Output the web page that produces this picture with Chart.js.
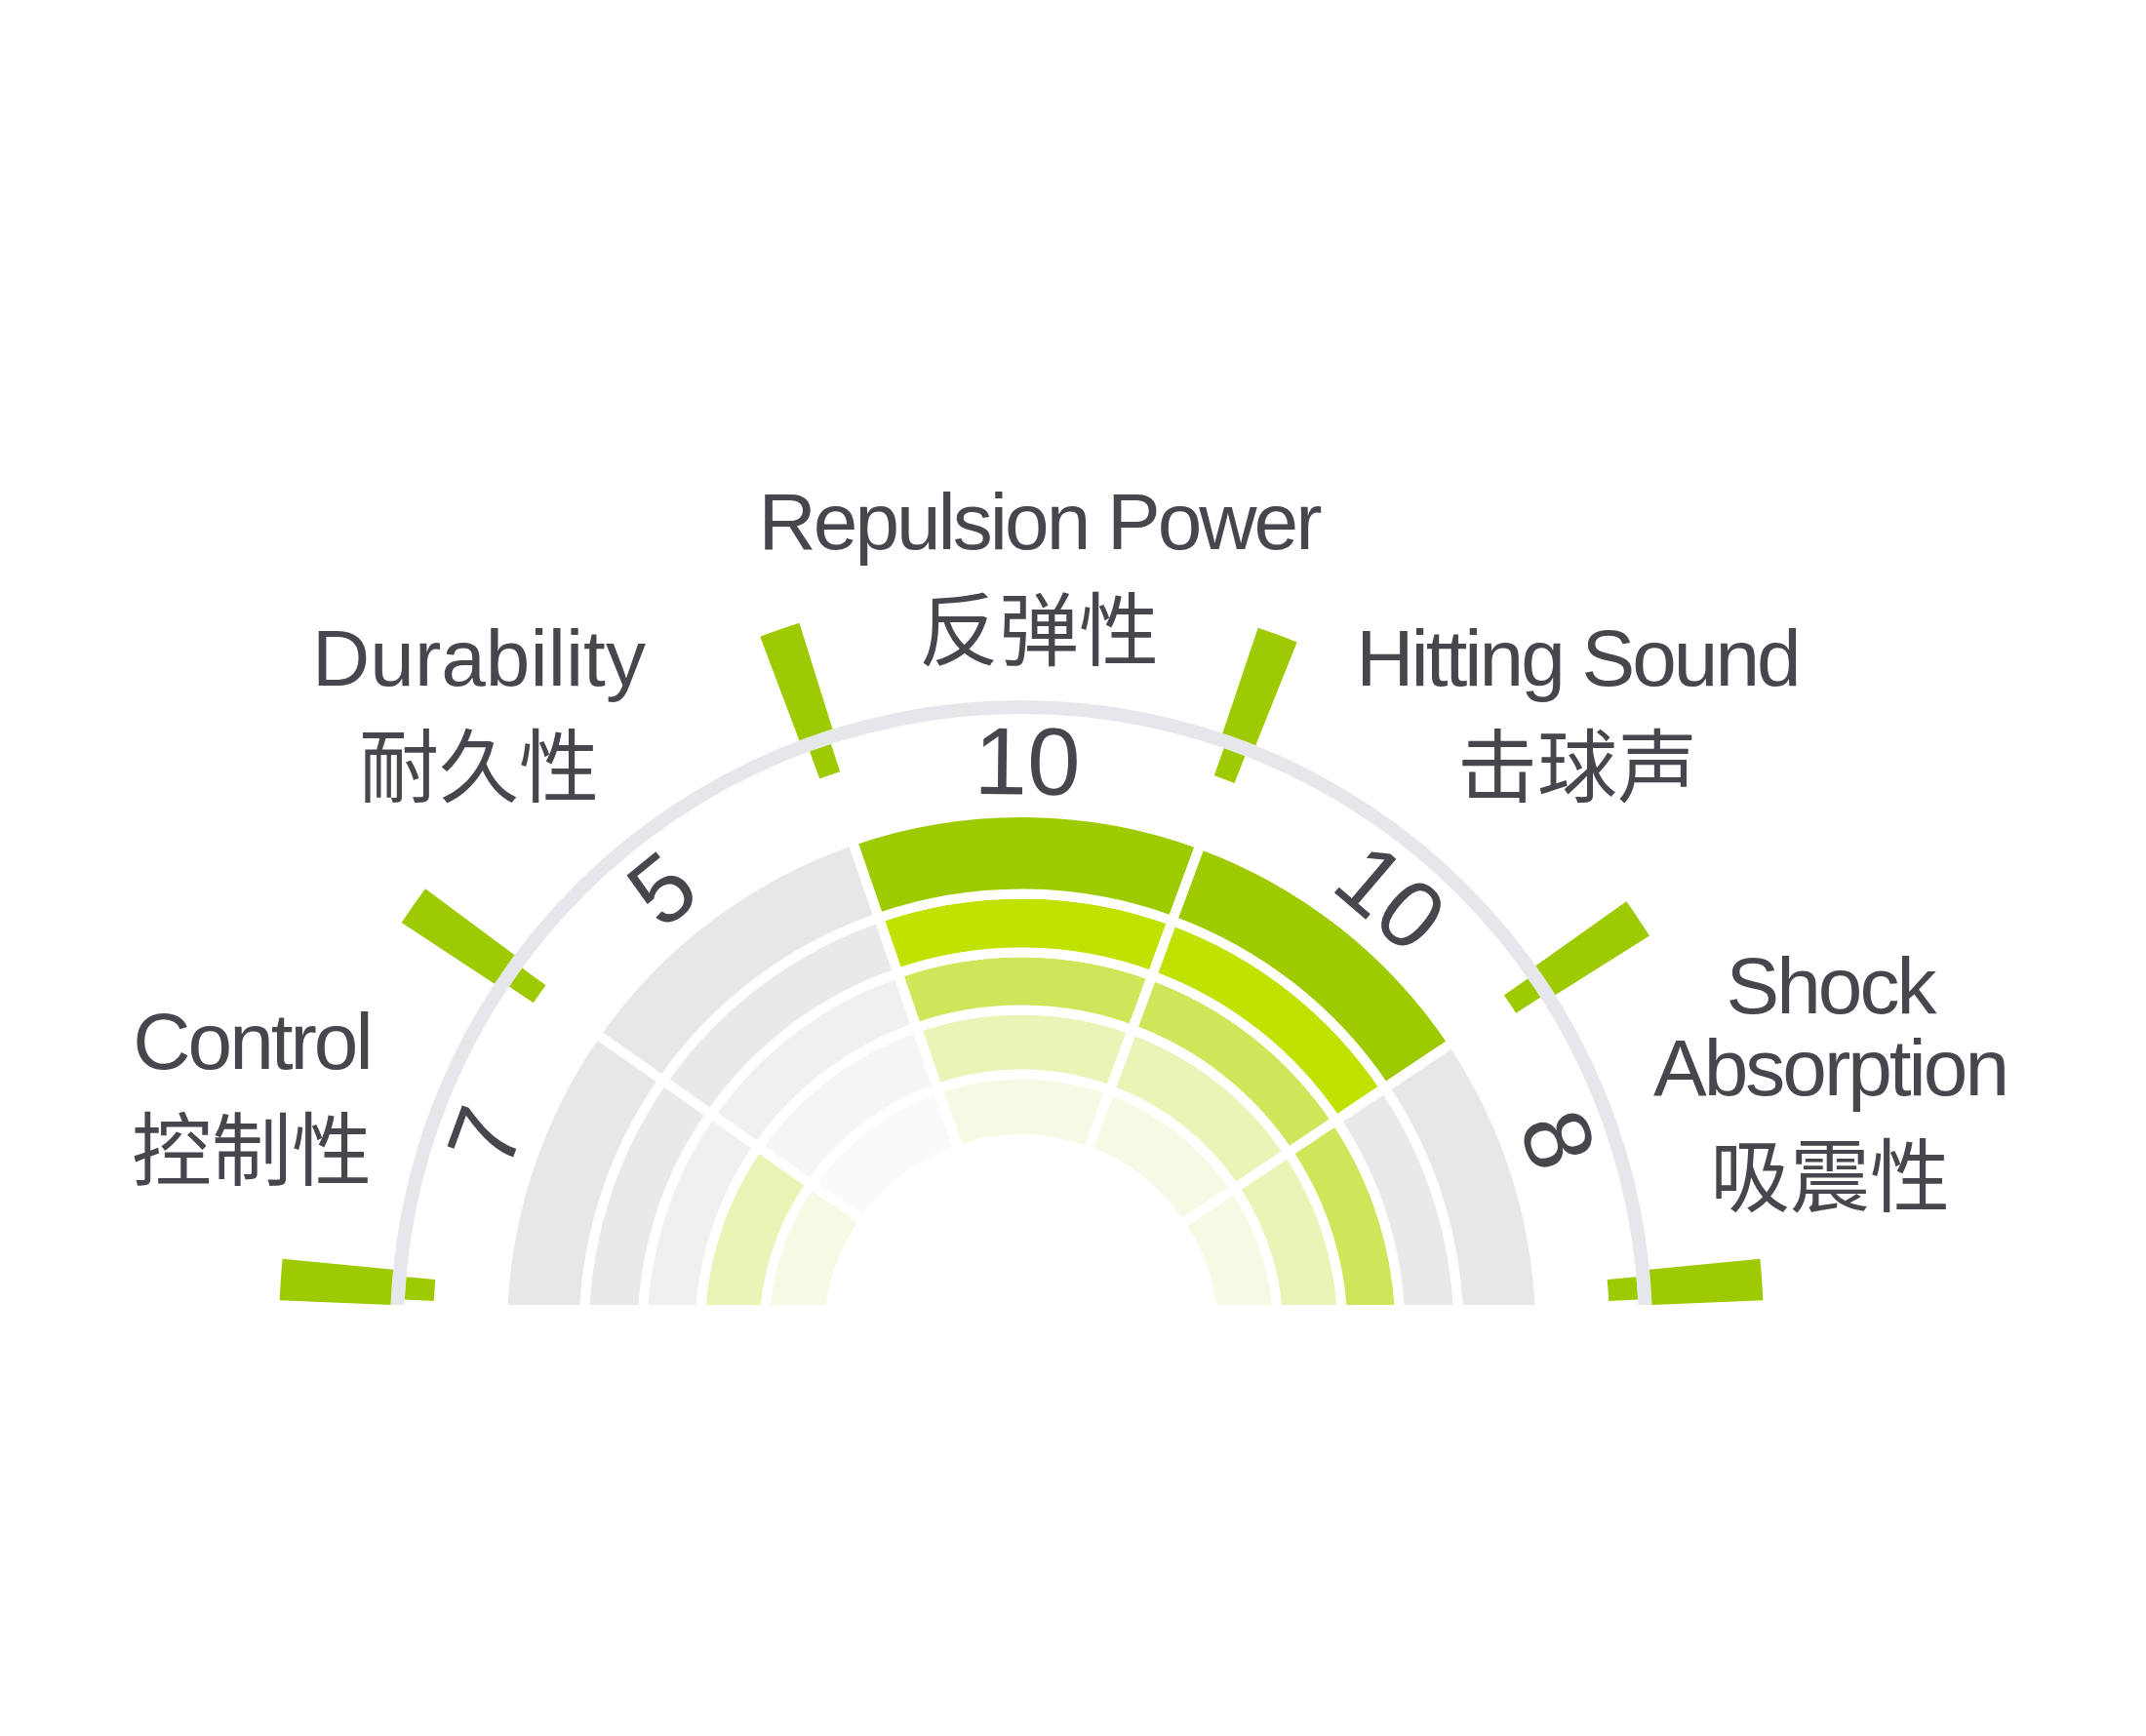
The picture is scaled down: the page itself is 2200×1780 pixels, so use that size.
<!DOCTYPE html>
<html lang="zh-CN">
<head>
<meta charset="UTF-8">
<title>Racket Performance</title>
<script src="https://cdn.jsdelivr.net/npm/chart.js"></script>
<style>
  html, body { margin: 0; padding: 0; background: #fff; }
  canvas { display: block; }
</style>
</head>
<body>
<canvas id="perfChart" width="2200" height="1780"></canvas>
<script>
// ---- data ----
const categories = ['Control', 'Durability', 'Repulsion Power', 'Hitting Sound', 'Shock Absorption'];
const titleLines = [['Control'], ['Durability'], ['Repulsion Power'], ['Hitting Sound'], ['Shock', 'Absorption']];
const categoriesZh = ['控制性', '耐久性', '反弹性', '击球声', '吸震性'];
const scores = [7, 5, 10, 10, 8];
const scoreFloor = 5;   // a ring lights up for every point above this
const ringCount = 5;

// ---- layout ----
const sectorSweep = [35, 36, 39.2, 36, 33.8];   // degrees, left to right
const endTickInset = 4;
const tickOuterWidth = 3.2;
const tickInnerWidth = 2.1;
const baseLift = 27;                            // baseline sits a bit above the centre
const bands = {                                 // px from centre, outside -> inside
  tickOuter: [647, 761],
  arc: [633, 647],
  tickInner: [603, 633],
  gap: [532, 603],
  rings: [[448.5, 532], [388.5, 448.5], [329.5, 388.5], [263.5, 329.5], [197, 263.5]]
};
// title anchor relative to centre (first english baseline) and tracking
const titleAnchor = [[-789, -269], [-556, -662], [18, -802], [570, -662], [829, -326]];
const titleTracking = [-3, 0, -3, -3, -3];
const numberShift = [1.1, -2.1, 0, 2.2, -1.4];   // degrees, clockwise

const greenShades = ['#9dcb00', '#c1e200', '#cee75a', '#e9f5b7', '#f5fae5'];
const greyShades = ['#e6e7e9', '#e8e9eb', '#f0f0f1', '#f5f5f6', '#fafafa'];
const tickGreen = '#9dca00';
const arcGrey = '#e6e7ea';
const textColor = '#46464c';
const clear = 'rgba(0,0,0,0)';

// tick marks sit on every sector boundary plus one near each end
const tickCenters = [endTickInset];
let acc = 0;
sectorSweep.slice(0, -1).forEach(s => { acc += s; tickCenters.push(acc); });
tickCenters.push(180 - endTickInset);

function tickSegments(w) {
  const data = [], colors = [];
  let pos = 0;
  tickCenters.forEach(c => {
    data.push(c - w / 2 - pos); colors.push(clear);
    data.push(w); colors.push(tickGreen);
    pos = c + w / 2;
  });
  data.push(180 - pos); colors.push(clear);
  return { data, colors };
}

const tOut = tickSegments(tickOuterWidth);
const tIn = tickSegments(tickInnerWidth);
const weightOf = b => b[1] - b[0];

const datasets = [
  { data: tOut.data, backgroundColor: tOut.colors, weight: weightOf(bands.tickOuter) },
  { data: [180], backgroundColor: [arcGrey], weight: weightOf(bands.arc) },
  { data: tIn.data, backgroundColor: tIn.colors, weight: weightOf(bands.tickInner) },
  { data: sectorSweep, backgroundColor: sectorSweep.map(() => clear), weight: weightOf(bands.gap) }
];
const gapIndex = 3;

bands.rings.forEach((b, j) => {
  const level = scoreFloor + ringCount - j;   // outer ring = 10
  datasets.push({
    data: sectorSweep,
    backgroundColor: scores.map(s => s >= level ? greenShades[j] : greyShades[j]),
    borderColor: '#ffffff',
    borderWidth: 10,
    weight: weightOf(b)
  });
});
datasets.forEach(d => { d.hoverOffset = 0; d.offset = 0; if (d.borderWidth === undefined) d.borderWidth = 0; });

const outerR = bands.tickOuter[1];
const innerR = bands.rings[bands.rings.length - 1][0];
const cx = 1047, cy = 1365;

const sectorText = {
  id: 'sectorText',
  beforeDatasetsDraw(chart) {
    const a = chart.getDatasetMeta(0).data[0];
    const ctx = chart.ctx;
    ctx.save();
    ctx.beginPath();
    ctx.rect(0, 0, chart.width, a.y - baseLift);
    ctx.clip();
  },
  afterDatasetsDraw(chart) {
    const ctx = chart.ctx;
    ctx.restore();
    const meta = chart.getDatasetMeta(gapIndex);
    ctx.save();
    ctx.fillStyle = textColor;
    ctx.textAlign = 'center';

    // score numbers along the arc
    meta.data.forEach((arc, i) => {
      const r = arc.innerRadius + (arc.outerRadius - arc.innerRadius) * 0.64;
      const clipA = Math.asin(baseLift / r);
      const a0 = Math.max(arc.startAngle, -Math.PI + clipA);
      const a1 = Math.min(arc.endAngle, -clipA);
      const a = (a0 + a1) / 2 + numberShift[i] * Math.PI / 180;
      ctx.save();
      ctx.translate(arc.x + Math.cos(a) * r, arc.y + Math.sin(a) * r);
      ctx.rotate(a + Math.PI / 2);
      ctx.font = '98px "Liberation Sans", Arial, sans-serif';
      ctx.textBaseline = 'middle';
      ctx.fillText(String(scores[i]), 0, 0);
      ctx.restore();
    });

    // category titles
    const ox = meta.data[0].x, oy = meta.data[0].y;
    ctx.textBaseline = 'alphabetic';
    categories.forEach((c, i) => {
      const x = ox + titleAnchor[i][0];
      let y = oy + titleAnchor[i][1];
      ctx.font = '82px "Liberation Sans", Arial, sans-serif';
      ctx.letterSpacing = titleTracking[i] + 'px';
      titleLines[i].forEach((line, k) => {
        if (k > 0) y += 84;
        ctx.fillText(line, x, y);
      });
      ctx.letterSpacing = '0px';
      ctx.font = '82px "Noto Sans CJK SC", sans-serif';
      ctx.fillText(categoriesZh[i], x, y + 113);
    });
    ctx.restore();
  }
};

new Chart(document.getElementById('perfChart'), {
  type: 'doughnut',
  data: { labels: categories, datasets },
  options: {
    responsive: false,
    animation: false,
    devicePixelRatio: 1,
    events: [],
    rotation: -90,
    circumference: 180,
    cutout: (innerR / outerR * 100) + '%',
    layout: {
      padding: { left: cx - outerR - 9, right: 2200 - cx - outerR - 9, top: cy - outerR, bottom: 1780 - cy }
    },
    elements: { arc: { borderWidth: 0, hoverBorderWidth: 0 } },
    plugins: { legend: { display: false }, tooltip: { enabled: false } }
  },
  plugins: [sectorText]
});
</script>
</body>
</html>
